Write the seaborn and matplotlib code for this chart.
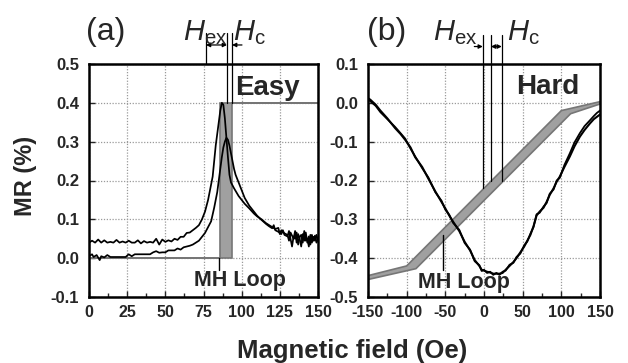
import numpy as np
import pandas as pd
import matplotlib
matplotlib.use("Agg")
import matplotlib.pyplot as plt
import seaborn as sns

# ---------------- data: panel (a) easy axis ----------------
easy_field_1 = [0, 2, 4, 6, 8, 10, 12, 14, 16, 18, 20, 22, 24, 26, 28, 30, 32, 34, 36, 38, 40,
                42, 44, 46, 48, 50, 52, 54, 56, 58, 60, 62, 64, 66, 68, 70, 72, 74, 76, 78, 80,
                81, 82, 83, 84, 85, 86, 87, 88, 89, 90, 91, 92, 93, 95, 98, 100, 102, 105, 108,
                110, 113, 116, 118, 120, 122, 124, 125, 126, 128, 130, 131, 132, 134, 135, 136,
                137, 138, 139, 140, 141, 142, 143, 144, 145, 146, 147, 148, 149, 150]
easy_mr_1 = [0.040, 0.045, 0.040, 0.048, 0.040, 0.046, 0.040, 0.042, 0.040, 0.047, 0.040, 0.043,
             0.040, 0.045, 0.040, 0.040, 0.046, 0.038, 0.044, 0.040, 0.042, 0.040, 0.050, 0.035,
             0.048, 0.042, 0.046, 0.043, 0.050, 0.047, 0.055, 0.055, 0.065, 0.066, 0.072, 0.078,
             0.085, 0.100, 0.120, 0.150, 0.190, 0.210, 0.250, 0.290, 0.320, 0.350, 0.380, 0.400,
             0.395, 0.360, 0.310, 0.260, 0.215, 0.195, 0.180, 0.160, 0.150, 0.140, 0.128, 0.115,
             0.108, 0.100, 0.090, 0.085, 0.080, 0.075, 0.078, 0.062, 0.072, 0.064, 0.060, 0.045,
             0.066, 0.050, 0.070, 0.040, 0.062, 0.050, 0.030, 0.062, 0.045, 0.066, 0.040, 0.056,
             0.035, 0.060, 0.045, 0.058, 0.040, 0.050]

easy_field_2 = [0, 2, 3, 5, 7, 8, 10, 12, 14, 16, 20, 24, 26, 28, 30, 32, 40, 42, 44, 46, 48, 50,
                52, 56, 58, 60, 62, 64, 66, 68, 70, 72, 74, 76, 78, 80, 82, 84, 85, 86, 87, 88,
                89, 90, 91, 92, 93, 94, 95, 96, 97, 98, 100, 102, 105, 108, 110, 112, 114, 116,
                118, 120, 121, 122, 124, 126, 127, 128, 130, 131, 132, 133, 134, 135, 136, 137,
                138, 139, 140, 141, 142, 143, 144, 145, 146, 147, 148, 149, 150]
easy_mr_2 = [0.005, 0.010, 0.003, 0.008, -0.005, 0.005, 0.002, 0.008, 0.003, 0.003, 0.003, 0.003,
             0.010, 0.005, 0.010, 0.010, 0.010, 0.015, 0.018, 0.014, 0.015, 0.015, 0.020, 0.020,
             0.025, 0.022, 0.028, 0.030, 0.032, 0.035, 0.040, 0.045, 0.055, 0.065, 0.080, 0.095,
             0.130, 0.170, 0.200, 0.230, 0.260, 0.285, 0.300, 0.310, 0.305, 0.290, 0.270, 0.250,
             0.230, 0.215, 0.205, 0.195, 0.175, 0.155, 0.135, 0.120, 0.110, 0.102, 0.095, 0.088,
             0.082, 0.077, 0.085, 0.072, 0.068, 0.062, 0.072, 0.060, 0.056, 0.070, 0.050, 0.030,
             0.056, 0.050, 0.066, 0.035, 0.055, 0.060, 0.040, 0.070, 0.045, 0.050, 0.030, 0.060,
             0.040, 0.055, 0.045, 0.060, 0.045]

# square MH loop (easy axis), two branches
easy_loop_a_x = [0, 85.8, 85.8, 150]
easy_loop_a_y = [0.0, 0.0, 0.4, 0.4]
easy_loop_b_x = [0, 93.4, 93.4, 150]
easy_loop_b_y = [0.0, 0.0, 0.4, 0.4]

# ---------------- data: panel (b) hard axis ----------------
hard_field = [-150, -147, -140, -134, -125, -115, -108, -102, -95, -89, -80, -72, -63, -55, -50,
              -45, -40, -32, -25, -18, -12, -6, -3, 0, 4, 8, 12, 16, 20, 24, 28, 33, 38, 42, 47,
              52, 56, 60, 64, 68, 72, 77, 81, 85, 90, 94, 98, 104, 111, 117, 124, 130, 137, 142,
              146, 150]
hard_mr_1 = [0.012, 0.008, -0.005, -0.020, -0.040, -0.065, -0.080, -0.095, -0.115, -0.140,
             -0.165, -0.195, -0.228, -0.255, -0.272, -0.290, -0.306, -0.330, -0.358, -0.380,
             -0.405, -0.420, -0.430, -0.432, -0.435, -0.437, -0.440, -0.440, -0.440, -0.438,
             -0.430, -0.420, -0.410, -0.400, -0.385, -0.370, -0.355, -0.340, -0.318, -0.290,
             -0.280, -0.270, -0.255, -0.237, -0.220, -0.203, -0.190, -0.165, -0.138, -0.112,
             -0.087, -0.070, -0.053, -0.042, -0.036, -0.030]
hard_mr_2 = [0.010, 0.004, -0.008, -0.024, -0.042, -0.062, -0.078, -0.092, -0.118, -0.138,
             -0.168, -0.192, -0.230, -0.252, -0.275, -0.288, -0.309, -0.327, -0.361, -0.378,
             -0.408, -0.418, -0.433, -0.430, -0.438, -0.435, -0.443, -0.438, -0.443, -0.435,
             -0.432, -0.417, -0.412, -0.397, -0.388, -0.367, -0.357, -0.337, -0.320, -0.287,
             -0.283, -0.267, -0.258, -0.234, -0.223, -0.200, -0.193, -0.160, -0.130, -0.102,
             -0.078, -0.060, -0.045, -0.034, -0.026, -0.020]

# sheared MH loop (hard axis), two branches
hard_loop_a_x = [-150, -100, 100, 150]
hard_loop_a_y = [-0.445, -0.420, -0.020, 0.003]
hard_loop_b_x = [-150, -88, 112, 150]
hard_loop_b_y = [-0.455, -0.427, -0.028, -0.003]

# tick labels / limits
easy_xticks = [0, 25, 50, 75, 100, 125, 150]
easy_yticks = [-0.1, 0.0, 0.1, 0.2, 0.3, 0.4, 0.5]
hard_xticks = [-150, -100, -50, 0, 50, 100, 150]
hard_yticks = [-0.5, -0.4, -0.3, -0.2, -0.1, 0.0, 0.1]

# annotation field positions (Oe)
easy_hex_lines = [76.6, 90.4, 93.7]
hard_hex_lines = [-1.5, 9.0, 23.0]

# ---------------- style ----------------
sns.set_style("ticks")
plt.rcParams["font.family"] = ["Liberation Sans", "DejaVu Sans"]
plt.rcParams["axes.unicode_minus"] = False
plt.rcParams["mathtext.fontset"] = "custom"
plt.rcParams["mathtext.rm"] = "Liberation Sans"
plt.rcParams["mathtext.it"] = "Liberation Sans:italic"

fig = plt.figure(figsize=(6.28, 3.63), dpi=100)
axA = fig.add_axes([89 / 628, 1 - 297 / 363, 229 / 628, 233 / 363])
axB = fig.add_axes([368 / 628, 1 - 297 / 363, 232 / 628, 233 / 363])

LOOP_FILL = "#a0a0a0"
LOOP_EDGE = "#767676"


def style_axes(ax, xticks, yticks, xfmt, yfmt, xminor):
    ax.set_xlim(xticks[0], xticks[-1])
    ax.set_ylim(yticks[0], yticks[-1])
    ax.set_xticks(xticks)
    ax.set_yticks(yticks)
    ax.set_xticklabels([xfmt(v) for v in xticks])
    ax.set_yticklabels([yfmt(v) for v in yticks])
    ax.set_xticks(xminor, minor=True)
    ax.grid(True, which="major", color="#9a9a9a", linestyle=(0, (1, 1.3)), linewidth=0.9)
    ax.set_axisbelow(True)
    for s in ax.spines.values():
        s.set_linewidth(1.8)
        s.set_color("black")
    ax.tick_params(which="both", direction="in", top=False, right=False, width=1.0)
    ax.tick_params(which="major", length=4)
    ax.tick_params(which="minor", length=3)
    ax.tick_params(axis="x", pad=6, labelsize=11.5)
    ax.tick_params(axis="y", pad=7, labelsize=12)
    for lab in ax.get_xticklabels() + ax.get_yticklabels():
        lab.set_fontweight("bold")
    ax.set_xlabel("")
    ax.set_ylabel("")


# ---------------- panel (a) ----------------
poly_x = easy_loop_a_x + easy_loop_b_x[::-1]
poly_y = easy_loop_a_y + easy_loop_b_y[::-1]
axA.fill(poly_x, poly_y, facecolor=LOOP_FILL, edgecolor=LOOP_EDGE, linewidth=1.2, zorder=2)

dfA1 = pd.DataFrame({"field": easy_field_1, "mr": easy_mr_1})
dfA2 = pd.DataFrame({"field": easy_field_2, "mr": easy_mr_2})
sns.lineplot(data=dfA1, x="field", y="mr", ax=axA, color="black", lw=1.25,
             estimator=None, sort=False, zorder=3)
sns.lineplot(data=dfA2, x="field", y="mr", ax=axA, color="black", lw=1.25,
             estimator=None, sort=False, zorder=3)

style_axes(axA, easy_xticks, easy_yticks, lambda v: f"{v:d}", lambda v: f"{v:.1f}",
           [12.5, 37.5, 62.5, 87.5, 112.5, 137.5])

axA.text(95.6, 0.439, "Easy", fontsize=20, fontweight="bold", va="center", ha="left")
axA.plot([85.0, 85.0], [0.0, -0.03], color="black", lw=1.0, zorder=4)
axA.text(99, -0.058, "MH Loop", fontsize=15.5, fontweight="bold", ha="center", va="center")

# Hex / Hc markers (panel a)
yarr_a = 0.549
l0, l1, l2 = easy_hex_lines
axA.plot([l0, l0], [0.58, 0.5], color="black", lw=0.9, clip_on=False)
axA.plot([l1, l1], [0.58, 0.4], color="black", lw=0.9, clip_on=False, zorder=4)
axA.plot([l2, l2], [0.58, 0.4], color="black", lw=0.9, clip_on=False, zorder=4)
axA.annotate("", xy=(l0, yarr_a), xytext=(l1, yarr_a), annotation_clip=False,
             arrowprops=dict(arrowstyle="<|-|>", color="black", lw=0.9,
                             mutation_scale=6, shrinkA=0, shrinkB=0))
axA.annotate("", xy=(l2, yarr_a), xytext=(l2 + 6.5, yarr_a), annotation_clip=False,
             arrowprops=dict(arrowstyle="-|>", color="black", lw=0.9,
                             mutation_scale=6, shrinkA=0, shrinkB=0))
axA.text(61.6, 0.562, r"$\mathit{H}_{\mathrm{ex}}$", fontsize=21, ha="left",
         va="baseline", clip_on=False)
axA.text(94.3, 0.562, r"$\mathit{H}_{\mathrm{c}}$", fontsize=21, ha="left",
         va="baseline", clip_on=False)

# ---------------- panel (b) ----------------
poly_x = hard_loop_a_x + hard_loop_b_x[::-1]
poly_y = hard_loop_a_y + hard_loop_b_y[::-1]
axB.fill(poly_x, poly_y, facecolor=LOOP_FILL, edgecolor=LOOP_EDGE, linewidth=1.2, zorder=2)

dfB1 = pd.DataFrame({"field": hard_field, "mr": hard_mr_1})
dfB2 = pd.DataFrame({"field": hard_field, "mr": hard_mr_2})
sns.lineplot(data=dfB1, x="field", y="mr", ax=axB, color="black", lw=1.5,
             estimator=None, sort=False, zorder=3)
sns.lineplot(data=dfB2, x="field", y="mr", ax=axB, color="black", lw=1.3,
             estimator=None, sort=False, zorder=3)

style_axes(axB, hard_xticks, hard_yticks, lambda v: f"{v:d}", lambda v: f"{v:.1f}",
           [-125, -75, -25, 25, 75, 125])

axB.text(41.4, 0.04, "Hard", fontsize=20, fontweight="bold", va="center", ha="left")
axB.plot([-52.6, -52.6], [-0.34, -0.43], color="black", lw=1.0, zorder=4)
axB.text(-26.5, -0.462, "MH Loop", fontsize=15.5, fontweight="bold", ha="center", va="center")

yarr_b = 0.145
m0, m1, m2 = hard_hex_lines
for m, yend in zip(hard_hex_lines, [-0.22, -0.20, -0.20]):
    axB.plot([m, m], [0.175, yend], color="black", lw=0.9, clip_on=False, zorder=4)
axB.annotate("", xy=(m0, yarr_b), xytext=(m0 - 11, yarr_b), annotation_clip=False,
             arrowprops=dict(arrowstyle="-|>", color="black", lw=0.9,
                             mutation_scale=6, shrinkA=0, shrinkB=0))
axB.annotate("", xy=(m1, yarr_b), xytext=(m2, yarr_b), annotation_clip=False,
             arrowprops=dict(arrowstyle="<|-|>", color="black", lw=0.9,
                             mutation_scale=6, shrinkA=0, shrinkB=0))
axB.text(-66, 0.162, r"$\mathit{H}_{\mathrm{ex}}$", fontsize=21, ha="left",
         va="baseline", clip_on=False)
axB.text(29.7, 0.162, r"$\mathit{H}_{\mathrm{c}}$", fontsize=21, ha="left",
         va="baseline", clip_on=False)

# ---------------- figure labels ----------------
fig.text(0.137, 0.912, "(a)", fontsize=23, ha="left", va="center")
fig.text(0.584, 0.912, "(b)", fontsize=23, ha="left", va="center")
fig.text(0.561, 0.0138, "Magnetic field (Oe)", fontsize=18.5, fontweight="bold",
         ha="center", va="baseline")
fig.text(0.04, 0.515, "MR (%)", fontsize=17, fontweight="bold", rotation=90,
         ha="center", va="center")

fig.savefig("out.png", dpi=100)
